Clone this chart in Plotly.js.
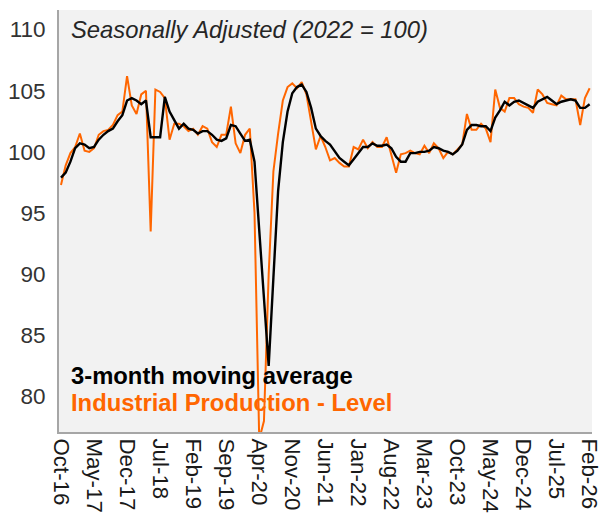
<!DOCTYPE html>
<html>
<head>
<meta charset="utf-8">
<script src="https://cdn.plot.ly/plotly-3.0.1.min.js"></script>
<style>
html,body{margin:0;padding:0;background:#fff;}
#chart{width:603px;height:515px;}
</style>
</head>
<body>
<div id="chart"></div>
<script>
// Monthly labels shown on the x axis (every 7 months from Oct-16)
const tickLabels = ["Oct-16","May-17","Dec-17","Jul-18","Feb-19","Sep-19","Apr-20","Nov-20","Jun-21","Jan-22","Aug-22","Mar-23","Oct-23","May-24","Dec-24","Jul-25","Feb-26"];

// Industrial Production - Level (2022 = 100), Oct-16 .. Feb-26
const ipLevel = [
  97.3, 98.9, 99.9,100.4,101.5,100.1,100.0,100.3,101.4,101.7,
 101.8,102.2,103.0,103.3,106.2,103.8,103.1,104.7,105.0, 93.5,
 105.1,104.9,104.4,101.0,102.3,102.3,102.1,101.7,101.9,101.4,
 102.1,101.9,100.8,100.4,101.4,101.4,103.7,100.7, 99.9,101.4,
 101.9, 95.0, 76.5, 78.0, 90.0, 98.4,101.5,104.2,105.3,105.6,
 105.2,105.7,104.7,102.4,100.2,101.3,100.4, 99.3, 99.5, 99.1,
  98.8, 98.8,100.4,100.2,101.0,100.3,100.8,100.4,100.4,101.2,
  99.8, 98.3, 99.8, 99.9,100.1, 99.9, 99.8,100.5, 99.9,100.7,
 100.3, 99.5,100.0, 99.8,100.2,100.6,103.1,101.8,101.8,102.3,
 101.9,100.8,105.1,103.6,103.3,104.4,104.4,103.9,103.7,103.6,
 103.2,105.1,104.7,104.0,103.9,103.8,104.6,104.3,104.3,104.3,
 102.2,104.4,105.2
];

// 3-month moving average
const movingAvg = [
  97.9, 98.3, 99.2,100.3,100.7,100.6,100.3,100.4,101.0,101.4,
 101.7,101.9,102.5,103.0,104.2,104.4,104.2,103.9,104.2,101.2,
 101.2,101.2,104.5,103.3,102.6,101.9,102.3,101.9,101.8,101.5,
 101.7,101.7,101.4,101.0,100.9,101.1,102.2,102.1,101.5,100.9,
 101.0, 99.2, 93.6, 88.1, 82.5, 89.7, 96.8,100.8,103.3,104.8,
 105.3,105.5,104.9,103.6,101.9,101.3,100.9,100.6,100.0, 99.5,
  99.2, 98.9, 99.4, 99.9,100.4,100.4,100.7,100.5,100.5,100.6,
 100.3, 99.6, 99.2, 99.2, 99.9, 99.9,100.0,100.0,100.1,100.4,
 100.3,100.1,100.0, 99.8,100.1,100.6,101.8,102.2,102.2,102.1,
 102.1,101.7,102.8,103.4,104.1,103.8,104.1,104.2,104.0,103.8,
 103.6,104.1,104.3,104.5,104.2,103.9,104.1,104.2,104.3,104.2,
 103.6,103.6,103.9
];

const monthIndex = ipLevel.map((_, i) => i);
const tickVals = tickLabels.map((_, k) => k * 7);

const FONT = "Liberation Sans, Arial, sans-serif";
const ORANGE = "#ff6600";

const traces = [
  {x: monthIndex, y: ipLevel, type: "scatter", mode: "lines",
   line: {color: ORANGE, width: 2}, showlegend: false, hoverinfo: "skip"},
  {x: monthIndex, y: movingAvg, type: "scatter", mode: "lines",
   line: {color: "#000000", width: 2.4}, showlegend: false, hoverinfo: "skip"}
];

const layout = {
  width: 603, height: 515,
  margin: {l: 59, r: 11, t: 10, b: 83, pad: 0},
  paper_bgcolor: "#ffffff",
  plot_bgcolor: "#f2f2f2",
  font: {family: FONT, size: 22, color: "#262626"},
  xaxis: {
    range: [-0.42, 112.5],
    tickvals: tickVals, ticktext: tickLabels,
    tickangle: 90,
    showgrid: false, zeroline: false,
    showline: true, linecolor: "#a6a6a6", linewidth: 2,
    ticks: "", ticklabeloverflow: "allow",
    tickfont: {family: FONT, size: 22.3, color: "#1a1a1a"},
    fixedrange: true
  },
  yaxis: {
    range: [77.1, 111.6],
    tickvals: [80, 85, 90, 95, 100, 105, 110],
    showgrid: false, zeroline: false,
    showline: true, linecolor: "#a6a6a6", linewidth: 2,
    ticks: "", ticklabelstandoff: 7,
    tickfont: {family: FONT, size: 22.5, color: "#333333"},
    fixedrange: true
  },
  annotations: [
    {text: "<i>Seasonally Adjusted (2022 = 100)</i>", xref: "paper", yref: "paper",
     x: 0.018, y: 0.953, xanchor: "left", yanchor: "middle", showarrow: false,
     font: {family: FONT, size: 23.8, color: "#262626"}},
    {text: "<b>3-month moving average</b>", xref: "paper", yref: "paper",
     x: 0.018, y: 0.133, xanchor: "left", yanchor: "middle", showarrow: false,
     font: {family: FONT, size: 23.8, color: "#000000"}},
    {text: "<b>Industrial Production - Level</b>", xref: "paper", yref: "paper",
     x: 0.018, y: 0.071, xanchor: "left", yanchor: "middle", showarrow: false,
     font: {family: FONT, size: 23.8, color: ORANGE}}
  ]
};

Plotly.newPlot("chart", traces, layout, {staticPlot: true, displayModeBar: false});
</script>
</body>
</html>
